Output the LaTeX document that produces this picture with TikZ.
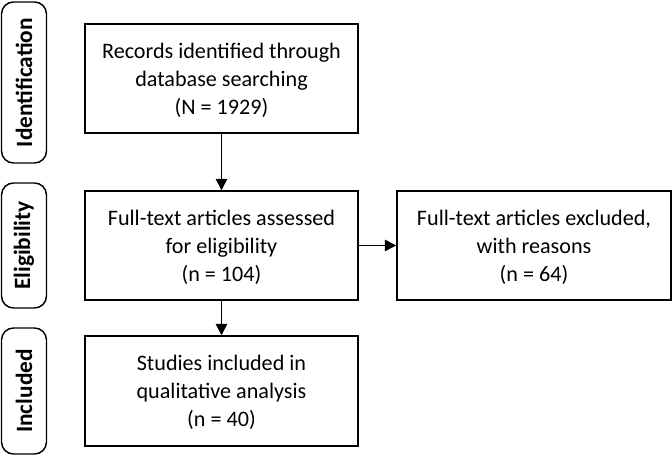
\documentclass[tikz,border=0pt]{standalone}
\usepackage{fontspec}
\setmainfont{Carlito}
\usetikzlibrary{shapes,positioning,arrows.meta}

\begin{document}
\begin{tikzpicture}
[x=0.75pt,y=0.75pt,
 >={Triangle[length=8.5pt,width=8.5pt]},
 every path/.style={line width=1.1pt},
 stage/.style={shape=rectangle,draw,rounded corners=9pt,rotate=90,
   minimum height=33.75pt,font=\fontsize{17.5}{20}\selectfont\bfseries},
 box/.style={shape=rectangle,draw,align=center,minimum width=204.75pt,
   minimum height=81.75pt,inner sep=0pt,text height=56pt,
   font=\fontsize{16.6}{21}\selectfont}]
\useasboundingbox (0,0) rectangle (672,455);
% stage labels
\node[stage,minimum width=120.75pt] (ident) at (24,372.5) {Identification};
\node[stage,minimum width=93.75pt] (elig) at (24,209.5) {Eligibility};
\node[stage,minimum width=94.5pt] (incl) at (24,64) {Included};
% flow boxes
\node[box] (rec) at (221.5,376.5) {Records identified through\\database searching\\(N = 1929)};
\node[box] (full) at (221.5,209.5) {Full-text articles assessed\\for eligibility\\(n = 104)};
\node[box,minimum width=205.5pt] (excl) at (534,209.5) {Full-text articles excluded,\\with reasons\\(n = 64)};
\node[box,minimum height=82.5pt] (stud) at (221.5,64) {Studies included in\\qualitative analysis\\(n = 40)};
\draw[->] (rec) -- (full);
\draw[->] (full) -- (excl);
\draw[->] (full) -- (stud);
\end{tikzpicture}
\end{document}
